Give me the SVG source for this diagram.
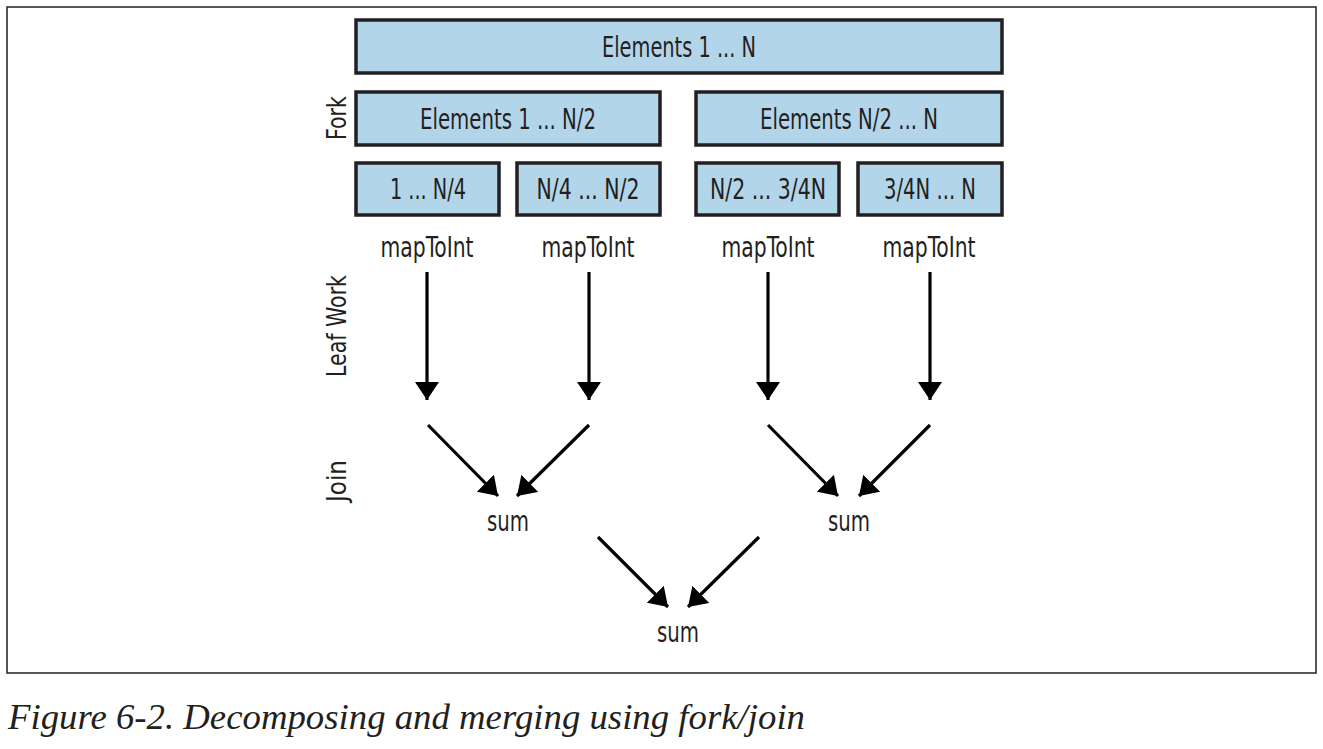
<svg xmlns="http://www.w3.org/2000/svg" width="1323" height="749" viewBox="0 0 1323 749">
<style>
.box{fill:#b3d5ea;stroke:#231f20;stroke-width:3.5}
.t{font-family:"DejaVu Sans Condensed","Liberation Sans",sans-serif;font-size:28px;fill:#231f20;text-anchor:middle}
.side{font-family:"DejaVu Sans Condensed","Liberation Sans",sans-serif;font-size:26px;fill:#231f20;text-anchor:middle}
.cap{font-family:"Liberation Serif",serif;font-style:italic;font-size:35px;fill:#231f20}
</style>
<defs>
<marker id="ah2" viewBox="0 0 18 24" refX="18" refY="12" markerWidth="18" markerHeight="24" markerUnits="userSpaceOnUse" orient="auto">
<path d="M0,0 L18,12 L0,24 z" fill="#000"/>
</marker>
</defs>
<rect x="7" y="7" width="1309" height="666" fill="#fff" stroke="#231f20" stroke-width="1.5"/>
<g id="labels">
<text class="side" transform="translate(346,118) rotate(-90)" textLength="44" lengthAdjust="spacingAndGlyphs">Fork</text>
<text class="side" transform="translate(346,326) rotate(-90)" textLength="102" lengthAdjust="spacingAndGlyphs">Leaf Work</text>
<text class="side" transform="translate(346,481) rotate(-90)" textLength="42" lengthAdjust="spacingAndGlyphs">Join</text>
</g>
<g id="all"><rect class="box" x="356" y="20" width="646" height="53"/><text class="t" x="679" y="57" textLength="154" lengthAdjust="spacingAndGlyphs">Elements 1 ... N</text></g>
<g id="half1"><rect class="box" x="356" y="92" width="304" height="53"/><text class="t" x="508" y="129" textLength="176" lengthAdjust="spacingAndGlyphs">Elements 1 ... N/2</text></g>
<g id="half2"><rect class="box" x="696" y="92" width="306" height="53"/><text class="t" x="849" y="129" textLength="178" lengthAdjust="spacingAndGlyphs">Elements N/2 ... N</text></g>
<g id="q1"><rect class="box" x="356" y="163" width="143" height="52"/><text class="t" x="428" y="199" textLength="76" lengthAdjust="spacingAndGlyphs">1 ... N/4</text></g>
<g id="q2"><rect class="box" x="517" y="163" width="143" height="52"/><text class="t" x="588" y="199" textLength="103" lengthAdjust="spacingAndGlyphs">N/4 ... N/2</text></g>
<g id="q3"><rect class="box" x="696" y="163" width="143" height="52"/><text class="t" x="768" y="199" textLength="116" lengthAdjust="spacingAndGlyphs">N/2 ... 3/4N</text></g>
<g id="q4"><rect class="box" x="858" y="163" width="144" height="52"/><text class="t" x="930" y="199" textLength="92" lengthAdjust="spacingAndGlyphs">3/4N ... N</text></g>
<g id="map1"><text class="t" x="427" y="257" textLength="93" lengthAdjust="spacingAndGlyphs">mapToInt</text></g>
<g id="map2"><text class="t" x="588" y="257" textLength="93" lengthAdjust="spacingAndGlyphs">mapToInt</text></g>
<g id="map3"><text class="t" x="768" y="257" textLength="93" lengthAdjust="spacingAndGlyphs">mapToInt</text></g>
<g id="map4"><text class="t" x="929" y="257" textLength="93" lengthAdjust="spacingAndGlyphs">mapToInt</text></g>
<g id="sum1"><text class="t" x="508" y="531" textLength="42" lengthAdjust="spacingAndGlyphs">sum</text></g>
<g id="sum2"><text class="t" x="849" y="531" textLength="42" lengthAdjust="spacingAndGlyphs">sum</text></g>
<g id="sum3"><text class="t" x="678" y="642" textLength="42" lengthAdjust="spacingAndGlyphs">sum</text></g>
<g id="connectors" stroke="#000" stroke-width="3.2" fill="none">
<line x1="427" y1="272" x2="427" y2="400" marker-end="url(#ah2)"/>
<line x1="589" y1="272" x2="589" y2="400" marker-end="url(#ah2)"/>
<line x1="768" y1="272" x2="768" y2="400" marker-end="url(#ah2)"/>
<line x1="930" y1="272" x2="930" y2="400" marker-end="url(#ah2)"/>
<line x1="428" y1="425" x2="498" y2="496" marker-end="url(#ah2)"/>
<line x1="589" y1="425" x2="517" y2="496" marker-end="url(#ah2)"/>
<line x1="768" y1="425" x2="838" y2="496" marker-end="url(#ah2)"/>
<line x1="930" y1="425" x2="859" y2="496" marker-end="url(#ah2)"/>
<line x1="598" y1="537" x2="668" y2="607" marker-end="url(#ah2)"/>
<line x1="759" y1="537" x2="688" y2="607" marker-end="url(#ah2)"/>
</g>
<text class="cap" x="8" y="729" textLength="797" lengthAdjust="spacingAndGlyphs">Figure 6-2. Decomposing and merging using fork/join</text>
</svg>
